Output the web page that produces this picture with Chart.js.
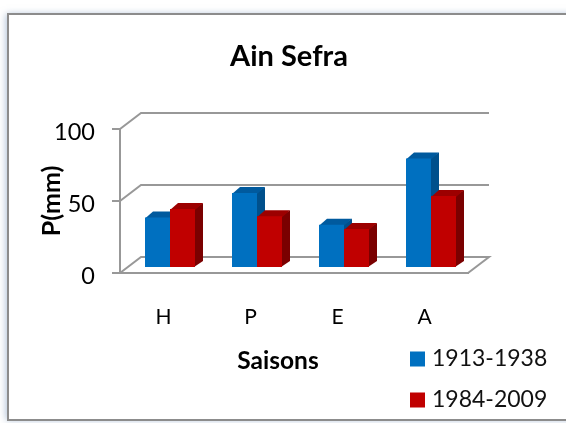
<!DOCTYPE html>
<html><head><meta charset="utf-8">
<style>html,body{margin:0;padding:0;background:#fff}canvas{display:block}</style>
<script src="https://cdn.jsdelivr.net/npm/chart.js@4"></script>
</head><body><canvas id="c" width="566" height="423"></canvas>
<script>
const categories = ['H','P','E','A'];
const series1913 = [35,52,30,76];
const series1984 = [41,36,27,50];
const seriesNames = ['1913-1938','1984-2009'];
const yTicks = [0,50,100];
const chartTitle = 'Ain Sefra';
const xTitle = 'Saisons';
const yTitle = 'P(mm)';
const FONT = 'Lato, Carlito, sans-serif';
const GRID = '#989898';
const WALL = {dx:21, dy:-16};
const BAR = {sx:6.5, sy:-5, dx:8, dy:-6};
const sideColors = ['#00508c','#7a0000'];
const topColors = ['#005a9e','#9c0000'];
const frontColors = ['#0070C0','#C00000'];

function poly(ctx, pts, fill){
  ctx.beginPath();
  pts.forEach((p,i)=> i?ctx.lineTo(p[0],p[1]):ctx.moveTo(p[0],p[1]));
  ctx.closePath(); ctx.fillStyle=fill; ctx.fill();
}
const scene = {
  id:'scene',
  beforeDraw(chart){
    const c=chart.ctx;
    c.save();
    c.fillStyle='#fff'; c.fillRect(0,0,566,423);
    c.shadowColor='rgba(110,140,180,0.55)'; c.shadowBlur=7; c.shadowOffsetX=-2; c.shadowOffsetY=0;
    c.strokeStyle='#8c8c8c'; c.lineWidth=2;
    c.fillStyle='#fff';
    c.beginPath(); c.rect(8,14,570,406); c.fill();
    c.shadowColor='transparent';
    c.stroke();
    c.restore();
  },
  beforeDatasetsDraw(chart){
    const c=chart.ctx, y=chart.scales.y, a=chart.chartArea;
    c.save();
    c.strokeStyle=GRID; c.lineWidth=2;
    yTicks.forEach(v=>{
      const p=y.getPixelForValue(v);
      c.beginPath();
      c.moveTo(a.left,p); c.lineTo(a.left+WALL.dx,p+WALL.dy); c.lineTo(a.right+WALL.dx,p+WALL.dy);
      if(v===0) c.lineTo(a.right,p);
      c.stroke();
    });
    c.translate(BAR.sx,BAR.sy);
    chart.data.datasets.forEach((ds,i)=>{
      chart.getDatasetMeta(i).data.forEach(b=>{
        const l=b.x-b.width/2, r=b.x+b.width/2, t=b.y, bt=b.base;
        poly(c,[[r-1,t],[r+BAR.dx,t+BAR.dy],[r+BAR.dx,bt+BAR.dy],[r-1,bt]],sideColors[i]);
        poly(c,[[l,t+1],[l+BAR.dx,t+BAR.dy],[r+BAR.dx,t+BAR.dy],[r,t+1]],topColors[i]);
      });
    });
    c.restore();
    c.save();
    c.translate(BAR.sx,BAR.sy);
  },
  afterDatasetsDraw(chart){ chart.ctx.restore(); },
  afterDraw(chart){
    const c=chart.ctx;
    c.save();
    c.fillStyle='#000'; c.textBaseline='middle';
    c.font='bold 24.5px '+FONT; c.textAlign='center';
    c.fillText(xTitle,278,361);
    c.font='23px '+FONT; c.textAlign='left';
    const ys=[359,400];
    chart.data.datasets.forEach((ds,i)=>{
      c.fillStyle=frontColors[i];
      c.fillRect(410,ys[i]-7.5,15,15);
      c.fillStyle='#111';
      c.fillText(ds.label,432,ys[i]);
    });
    c.restore();
  }
};
new Chart(document.getElementById('c'),{
  type:'bar',
  data:{labels:categories,datasets:[
    {label:seriesNames[0],data:series1913,backgroundColor:frontColors[0]},
    {label:seriesNames[1],data:series1984,backgroundColor:frontColors[1]}
  ]},
  plugins:[scene],
  options:{
    responsive:false,animation:false,
    layout:{padding:{left:12}},
    datasets:{bar:{barPercentage:1,categoryPercentage:50/87}},
    plugins:{
      legend:{display:false},
      tooltip:{enabled:false},
      title:{display:true,text:chartTitle,color:'#000',
        font:{family:FONT,size:29,weight:'bold'},padding:{top:39,bottom:55.2}}
    },
    scales:{
      x:{
        grid:{display:false},
        border:{display:true,color:GRID,width:2},
        ticks:{color:'#000',font:{family:FONT,size:21},padding:24,maxRotation:0},
        afterFit(s){s.height=150;}
      },
      y:{
        min:0,max:100,
        afterBuildTicks(s){s.ticks=yTicks.map(v=>({value:v}));},
        grid:{drawOnChartArea:false,color:GRID,lineWidth:2,tickLength:8},
        border:{display:true,color:GRID,width:2},
        ticks:{color:'#000',font:{family:FONT,size:23.5},padding:17,labelOffset:3},
        title:{display:true,text:yTitle,color:'#000',font:{family:FONT,size:25,weight:'bold'},padding:{top:25,bottom:0}},
        afterFit(s){s.width=108;}
      },
      spacer:{
        position:'right',display:true,
        grid:{display:false},border:{display:false},
        ticks:{display:false},
        afterFit(s){s.width=98;}
      }
    }
  }
});
</script></body></html>
